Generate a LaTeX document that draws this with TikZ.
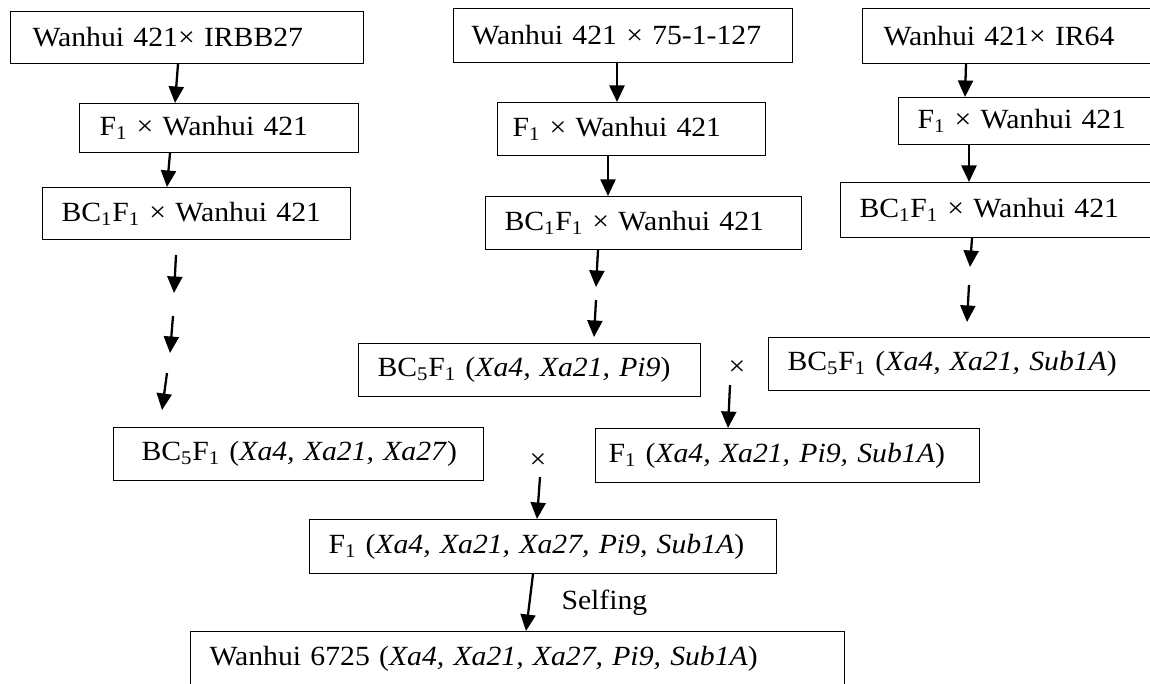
\documentclass[tikz,border=0pt]{standalone}
\usepackage{fontspec}
\setmainfont{Liberation Serif}[FakeStretch=1.07]
\usetikzlibrary{arrows.meta,positioning}

\newcommand{\stagefont}{\fontsize{15.8}{18}\selectfont}

\begin{document}
\begin{tikzpicture}[x=0.2mm, y=-0.2mm,
    stage/.style={draw, line width=0.6pt, anchor=north west, inner sep=0pt, align=left, font=\stagefont},
    flow/.style={line width=1.3pt, -{Triangle[length=3.3mm, width=3mm]}},
    cross/.style={font=\stagefont, inner sep=0pt}]

    \useasboundingbox (0,0) rectangle (1150,684);
    \clip (0,0) rectangle (1150,684);

    % left line: IRBB27
    \node[stage, text width=70.6mm, minimum height=10.4mm] (irbb) at (10,11) {\hspace*{4.4mm}Wanhui 421× IRBB27};
    \node[stage, text width=55.8mm, minimum height=9.8mm] (irbb_f1) at (79,103) {\hspace*{4mm}F\textsubscript{1} × Wanhui 421};
    \node[stage, text width=61.6mm, minimum height=10.4mm] (irbb_bc1) at (42,187) {\hspace*{3.8mm}BC\textsubscript{1}F\textsubscript{1} × Wanhui 421};
    \node[stage, text width=74mm, minimum height=10.6mm] (irbb_bc5) at (113,427) {\hspace*{5.6mm}BC\textsubscript{5}F\textsubscript{1} (\textit{Xa4, Xa21, Xa27})};

    % middle line: 75-1-127
    \node[stage, text width=67.8mm, minimum height=10.8mm] (pi) at (453,8) {\hspace*{3.6mm}Wanhui 421 × 75-1-127};
    \node[stage, text width=53.6mm, minimum height=10.6mm] (pi_f1) at (497,102) {\hspace*{3mm}F\textsubscript{1} × Wanhui 421};
    \node[stage, text width=63.2mm, minimum height=10.6mm] (pi_bc1) at (485,196) {\hspace*{3.8mm}BC\textsubscript{1}F\textsubscript{1} × Wanhui 421};
    \node[stage, text width=68.4mm, minimum height=10.6mm] (pi_bc5) at (358,343) {\hspace*{3.8mm}BC\textsubscript{5}F\textsubscript{1} (\textit{Xa4, Xa21, Pi9})};

    % right line: IR64
    \node[stage, text width=59.6mm, minimum height=11mm] (sub) at (862,8) {\hspace*{4.2mm}Wanhui 421× IR64};
    \node[stage, text width=52.4mm, minimum height=9.4mm] (sub_f1) at (898,97) {\hspace*{3.8mm}F\textsubscript{1} × Wanhui 421};
    \node[stage, text width=64mm, minimum height=11mm] (sub_bc1) at (840,182) {\hspace*{3.8mm}BC\textsubscript{1}F\textsubscript{1} × Wanhui 421};
    \node[stage, text width=78.4mm, minimum height=10.6mm] (sub_bc5) at (768,337) {\hspace*{3.8mm}BC\textsubscript{5}F\textsubscript{1} (\textit{Xa4, Xa21, Sub1A})};

    % crosses
    \node[cross] (cross_up) at (737,368) {×};
    \node[stage, text width=76.8mm, minimum height=10.8mm] (pisub_f1) at (595,428) {\hspace*{2.6mm}F\textsubscript{1} (\textit{Xa4, Xa21, Pi9, Sub1A})};
    \node[cross] (cross_low) at (538,461) {×};
    \node[stage, text width=93.4mm, minimum height=10.8mm] (all_f1) at (309,519) {\hspace*{3.8mm}F\textsubscript{1} (\textit{Xa4, Xa21, Xa27, Pi9, Sub1A})};
    \node[stage, text width=130.8mm, minimum height=10.8mm] (wanhui) at (190,631) {\hspace*{3.8mm}Wanhui 6725 (\textit{Xa4, Xa21, Xa27, Pi9, Sub1A})};

    % free arrow ends
    \coordinate (irbb_g1) at (176,255);  \coordinate (irbb_g2) at (174,293);
    \coordinate (irbb_g3) at (173,316);  \coordinate (irbb_g4) at (170,353);
    \coordinate (irbb_g5) at (167,373);  \coordinate (irbb_g6) at (162,410);
    \coordinate (pi_g1) at (596,287);    \coordinate (pi_g2) at (596,300);
    \coordinate (pi_g3) at (594,337);
    \coordinate (sub_g1) at (970,267);   \coordinate (sub_g2) at (969,285);
    \coordinate (sub_g3) at (967,322);
    \coordinate (cross_up_out) at (730,385);
    \coordinate (cross_low_out) at (540,477);

    \draw[flow] (irbb.south -| 178,0) -- (irbb_f1.north -| 175,0);
    \draw[flow] (irbb_f1.south -| 170,0) -- (irbb_bc1.north -| 167,0);
    \draw[flow] (irbb_g1) -- (irbb_g2);
    \draw[flow] (irbb_g3) -- (irbb_g4);
    \draw[flow] (irbb_g5) -- (irbb_g6);

    \draw[flow] (pi.south -| 617,0) -- (pi_f1.north -| 617,0);
    \draw[flow] (pi_f1.south -| 608,0) -- (pi_bc1.north -| 608,0);
    \draw[flow] (pi_bc1.south -| 598,0) -- (pi_g1);
    \draw[flow] (pi_g2) -- (pi_g3);

    \draw[flow] (sub.south -| 966,0) -- (sub_f1.north -| 965,0);
    \draw[flow] (sub_f1.south -| 969,0) -- (sub_bc1.north -| 969,0);
    \draw[flow] (sub_bc1.south -| 972,0) -- (sub_g1);
    \draw[flow] (sub_g2) -- (sub_g3);

    \draw[flow] (cross_up_out) -- (pisub_f1.north -| 728,0);
    \draw[flow] (cross_low_out) -- (all_f1.north -| 537,0);
    \draw[flow] (all_f1.south -| 533,0) -- node[right=5mm, font=\stagefont] (selfing) {Selfing} (wanhui.north -| 526,0);

\end{tikzpicture}
\end{document}
